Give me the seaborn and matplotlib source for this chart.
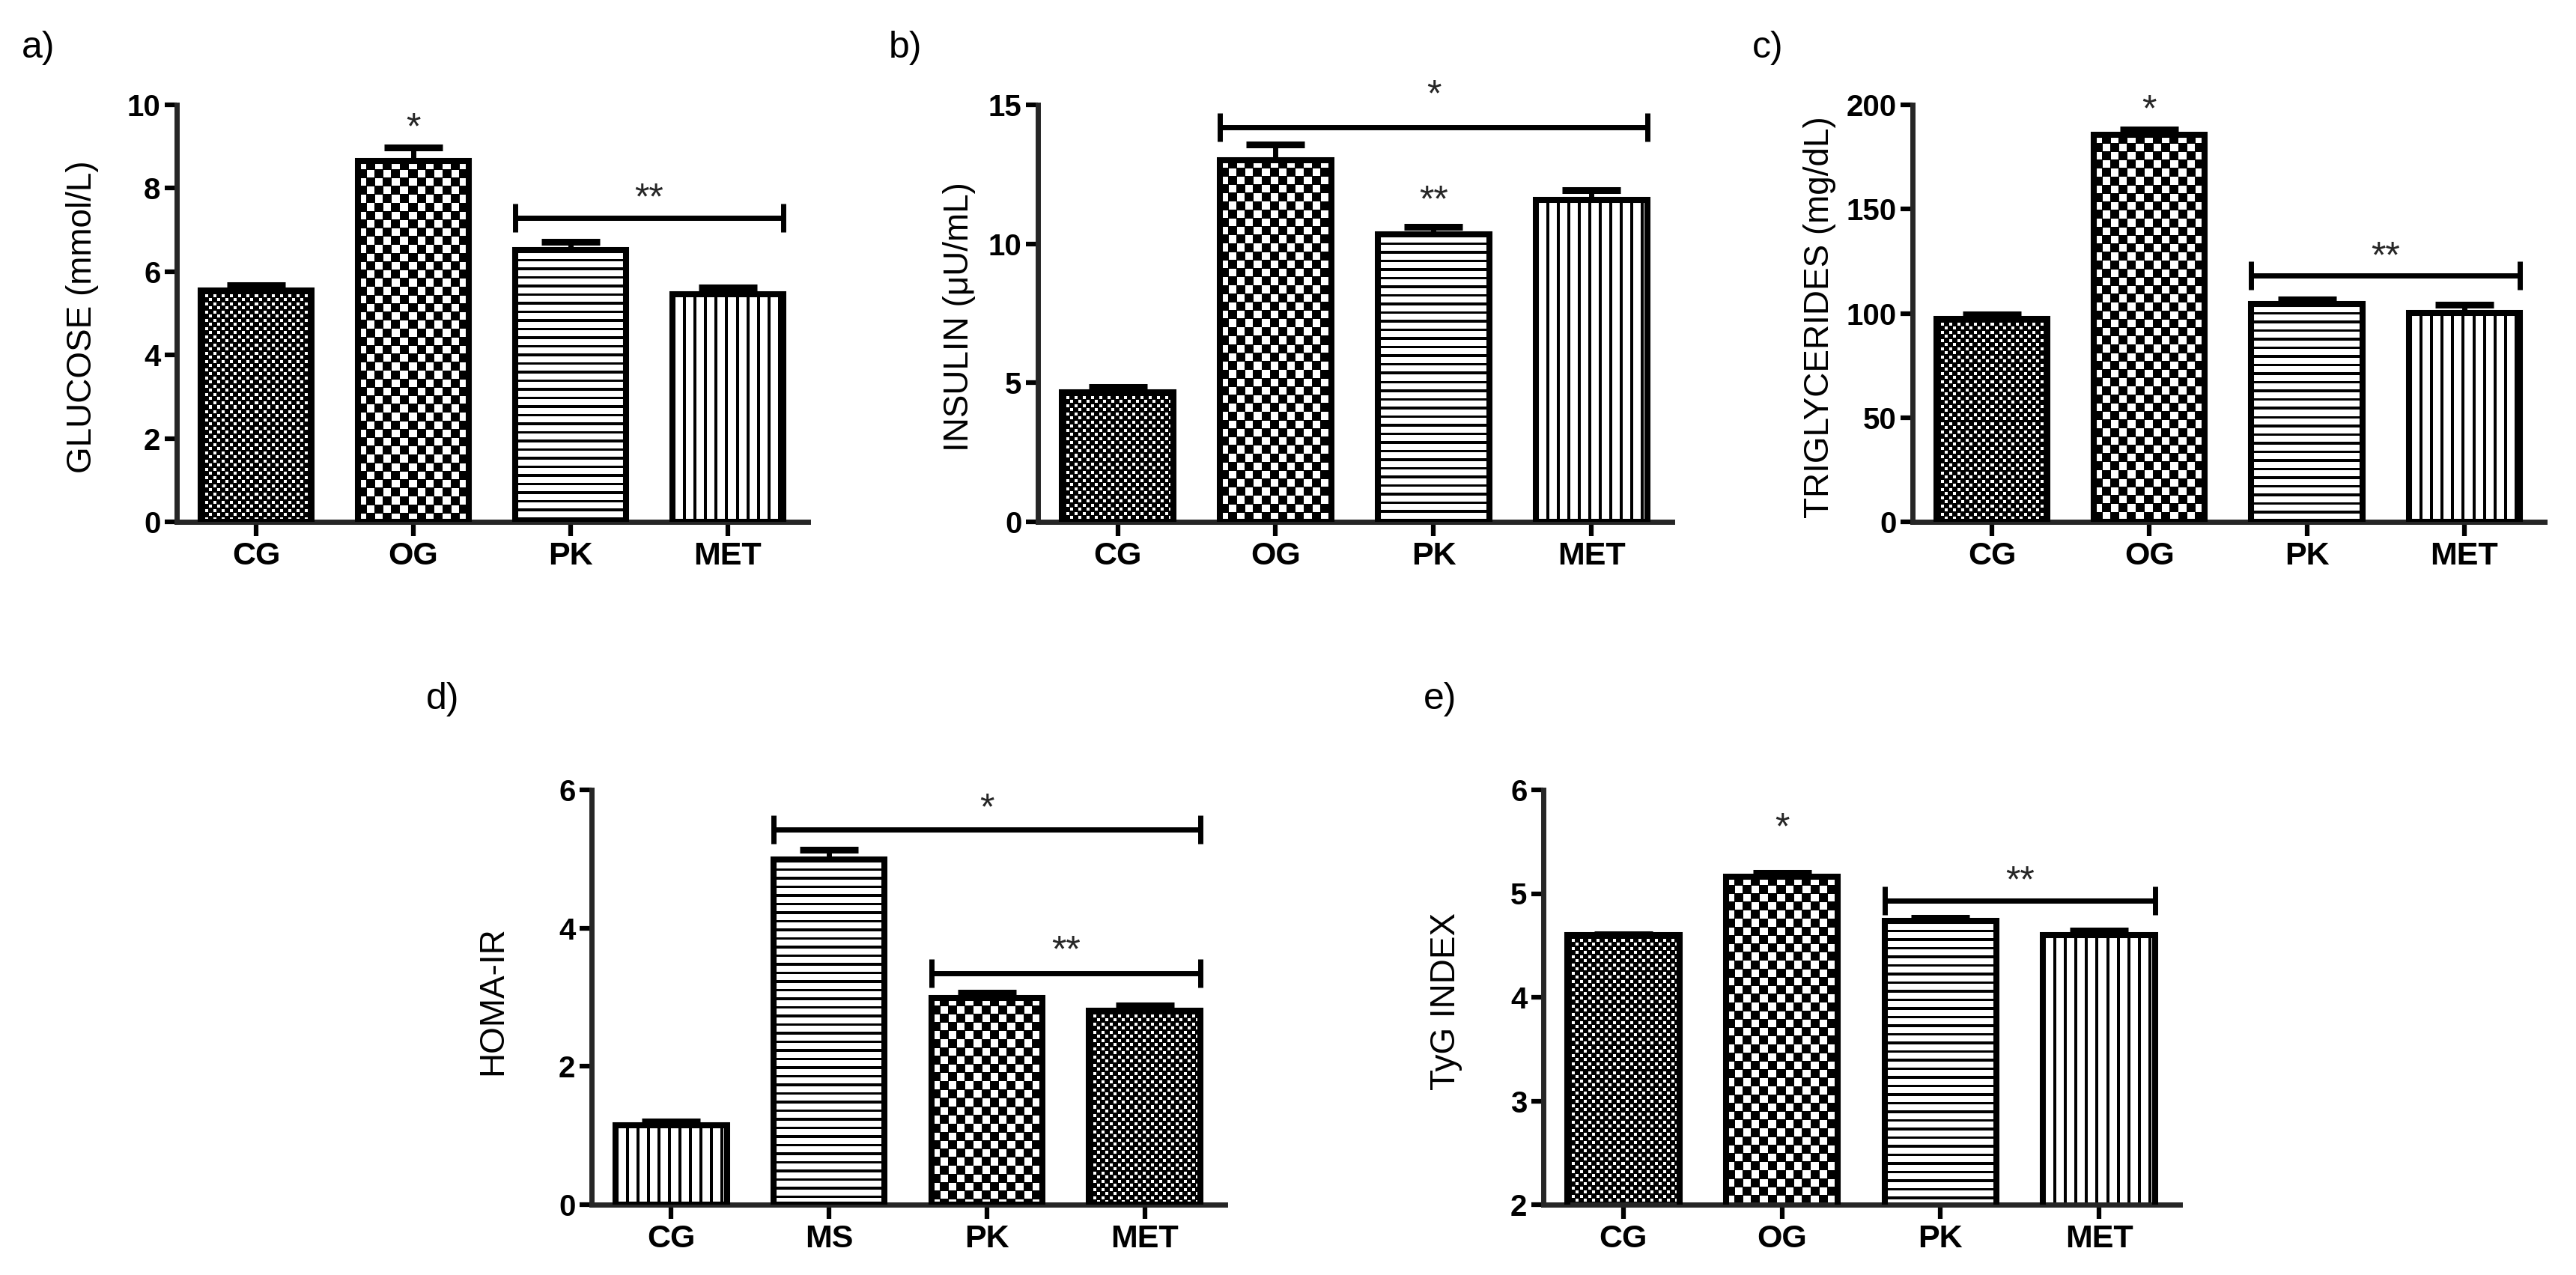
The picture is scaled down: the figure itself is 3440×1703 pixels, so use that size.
import numpy as np
import pandas as pd
import matplotlib
matplotlib.use('Agg')
import matplotlib.pyplot as plt
import seaborn as sns

sns.set_theme(style='ticks')
plt.rcParams['font.family'] = ['Liberation Sans', 'DejaVu Sans']

# group names
groups = ['CG', 'OG', 'PK', 'MET']
groups_homa = ['CG', 'MS', 'PK', 'MET']

# mean values and upper error (SEM)
glucose = [5.55, 8.65, 6.51, 5.45]
glucose_err = [0.12, 0.33, 0.21, 0.17]
insulin = [4.67, 13.02, 10.35, 11.57]
insulin_err = [0.19, 0.55, 0.26, 0.35]
trig = [97.4, 185.6, 104.5, 100.2]
trig_err = [2.0, 2.5, 2.2, 4.0]
homa = [1.15, 4.99, 2.99, 2.81]
homa_err = [0.05, 0.14, 0.08, 0.07]
tyg = [4.60, 5.16, 4.735, 4.60]
tyg_err = [0.01, 0.035, 0.03, 0.045]

# significance marks: (group index, height, text)
stars_a = [(1, 9.72, '*')]
brackets_a = [(2, 3, 7.29, '**', 8.02)]
stars_b = [(2, 11.95, '**')]
brackets_b = [(1, 3, 14.2, '*', 15.75)]
stars_c = [(1, 203, '*')]
brackets_c = [(2, 3, 118.1, '**', 132.5)]
stars_d = []
brackets_d = [(1, 3, 5.425, '*', 5.89), (2, 3, 3.35, '**', 3.84)]
stars_e = [(1, 5.74, '*')]
brackets_e = [(2, 3, 4.935, '**', 5.23)]

W, H = 3440, 1703
fig = plt.figure(figsize=(W / 100, H / 100), dpi=100)


def make_pattern(kind, w, h):
    yy, xx = np.mgrid[0:h, 0:w].astype(float)
    if kind == 'fine' or kind == 'coarse':
        c, s = (5.5, 4.0) if kind == 'fine' else (11.2, 10.3)
        ci = np.floor(xx / c)
        cj = np.floor(yy / c)
        white = ((ci + cj) % 2 == 0) & (xx - ci * c < s) & (yy - cj * c < s)
    elif kind == 'hlines':
        white = (yy % 11.5) >= 3.5
    else:
        white = (xx % 14.0) >= 4.0
    return white.astype(float)


def fill_pattern(ax, patch, kind):
    # only the part of the bar that is inside the y range
    x0 = patch.get_x()
    x1 = x0 + patch.get_width()
    y0 = max(patch.get_y(), ax.get_ylim()[0])
    y1 = patch.get_y() + patch.get_height()
    (px0, py0), (px1, py1) = ax.transData.transform([(x0, y0), (x1, y1)])
    w = int(round(px1 - px0))
    h = int(round(py1 - py0))
    if w <= 0 or h <= 0:
        return
    img = make_pattern(kind, w, h)
    ax.imshow(img, cmap='gray', vmin=0, vmax=1, interpolation='nearest',
              extent=(x0, x1, y0, y1), origin='upper', aspect='auto', zorder=1.5)


pat_std = ['fine', 'coarse', 'hlines', 'vlines']
pat_homa = ['vlines', 'hlines', 'coarse', 'fine']

panels = [
    dict(box=(236, 1079, 140, 697), cats=groups, vals=glucose, errs=glucose_err,
         ylim=(0, 10), yticks=[0, 2, 4, 6, 8, 10], ylabel='GLUCOSE (mmol/L)', lab_x=110,
         letter='a)', letter_xy=(29, 41), pats=pat_std, stars=stars_a, brackets=brackets_a),
    dict(box=(1386, 2233, 140, 697), cats=groups, vals=insulin, errs=insulin_err,
         ylim=(0, 15), yticks=[0, 5, 10, 15], ylabel='INSULIN (\u03bcU/mL)', lab_x=1281,
         letter='b)', letter_xy=(1187, 41), pats=pat_std, stars=stars_b, brackets=brackets_b),
    dict(box=(2554, 3398, 140, 697), cats=groups, vals=trig, errs=trig_err,
         ylim=(0, 200), yticks=[0, 50, 100, 150, 200], ylabel='TRIGLYCERIDES (mg/dL)', lab_x=2430,
         letter='c)', letter_xy=(2340, 41), pats=pat_std, stars=stars_c, brackets=brackets_c),
    dict(box=(790, 1636, 1055, 1609), cats=groups_homa, vals=homa, errs=homa_err,
         ylim=(0, 6), yticks=[0, 2, 4, 6], ylabel='HOMA-IR', lab_x=658,
         letter='d)', letter_xy=(569, 911), pats=pat_homa, stars=stars_d, brackets=brackets_d),
    dict(box=(2061, 2911, 1055, 1609), cats=groups, vals=tyg, errs=tyg_err,
         ylim=(2, 6), yticks=[2, 3, 4, 5, 6], ylabel='TyG INDEX', lab_x=1931,
         letter='e)', letter_xy=(1901, 911), pats=pat_std, stars=stars_e, brackets=brackets_e),
]

star_fs = 36

for p in panels:
    left, right, top, bottom = p['box']
    ax = fig.add_axes([left / W, 1 - bottom / H, (right - left) / W, (bottom - top) / H])
    df = pd.DataFrame({'group': p['cats'], 'value': p['vals']})
    sns.barplot(data=df, x='group', y='value', ax=ax, color='white', saturation=1,
                edgecolor='black', linewidth=5.8, width=0.705, errorbar=None)
    ax.set_xlim(-0.505, 3.51)
    ax.set_ylim(*p['ylim'])
    ax.set_autoscale_on(False)
    ax.set_xlabel('')
    ax.set_ylabel('')
    sns.despine(ax=ax)
    for sp in ['left', 'bottom']:
        ax.spines[sp].set_linewidth(5)
    ax.set_yticks(p['yticks'], labels=[str(t) for t in p['yticks']],
                  fontweight='bold', fontsize=29)
    ax.set_xticks(range(len(p['cats'])), labels=p['cats'], fontweight='bold', fontsize=31)
    ax.tick_params(axis='y', length=11.5, width=4.5, pad=4, colors='black')
    ax.tick_params(axis='x', length=14, width=4.5, pad=5, colors='black')

    bars = list(ax.patches)
    for patch, kind in zip(bars, p['pats']):
        fill_pattern(ax, patch, kind)
        patch.set_facecolor('none')
        patch.set_zorder(3)
    ax.set_xlim(-0.505, 3.51)
    ax.set_ylim(*p['ylim'])

    xs = [b.get_x() + b.get_width() / 2 for b in bars]
    ax.errorbar(xs, p['vals'], yerr=[np.zeros(len(xs)), p['errs']], fmt='none',
                ecolor='black', elinewidth=5, capsize=28, capthick=6.5, zorder=1)

    for i, y, txt in p['stars']:
        ax.annotate(txt, xy=(xs[i], y), xytext=(0, -0.59 * star_fs), textcoords='offset points',
                    ha='center', va='baseline', fontsize=star_fs, annotation_clip=False)
    for i0, i1, y, txt, ty in p['brackets']:
        x0 = bars[i0].get_x()
        x1 = bars[i1].get_x() + bars[i1].get_width()
        ax.plot([x0, x1], [y, y], color='black', lw=5, solid_capstyle='butt', clip_on=False)
        ax.plot([x0, x1], [y, y], ls='none', marker='|', ms=27, mew=5, color='black', clip_on=False)
        ax.annotate(txt, xy=((x0 + x1) / 2, ty), xytext=(0, -0.59 * star_fs), textcoords='offset points',
                    ha='center', va='baseline', fontsize=star_fs, annotation_clip=False)

    fig.text(p['lab_x'] / W, 1 - ((top + bottom) / 2 + 5) / H, p['ylabel'], rotation=90,
             ha='center', va='center', fontsize=33, color='black')
    lx, ly = p['letter_xy']
    fig.text(lx / W, 1 - ly / H, p['letter'], ha='left', va='top', fontsize=36, color='black')

fig.savefig('out.png', dpi=100, facecolor='white')
